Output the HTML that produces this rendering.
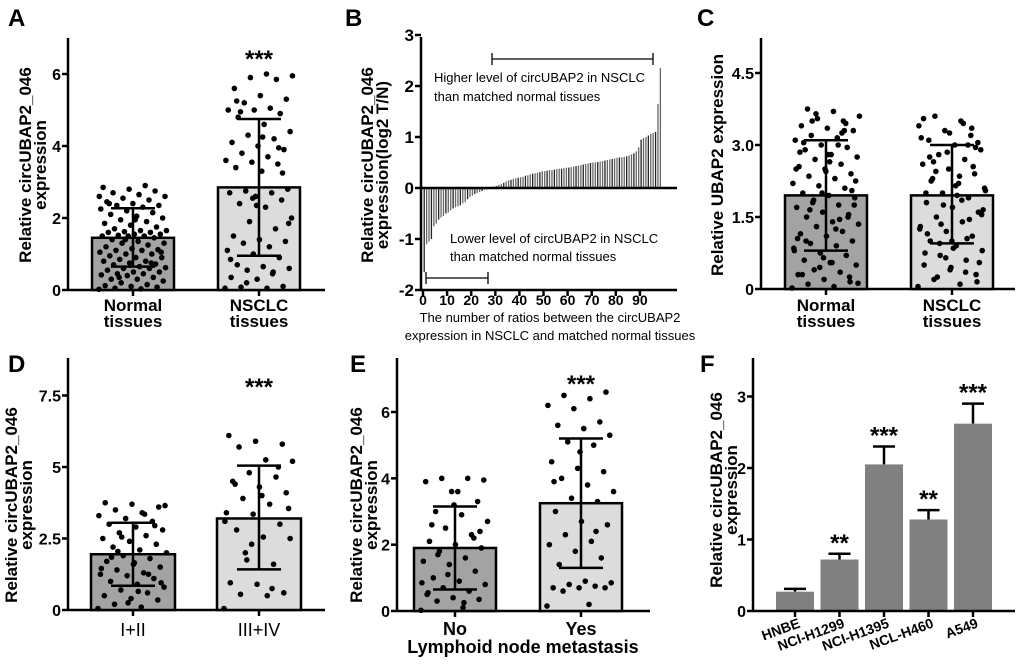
<!DOCTYPE html>
<html><head><meta charset="utf-8"><style>
html,body{margin:0;padding:0;background:#fff}
svg{display:block}
text{font-family:"Liberation Sans",Arial,sans-serif}
</style></head><body>
<svg id="fig" width="1020" height="665" viewBox="0 0 1020 665" xmlns="http://www.w3.org/2000/svg"></svg>
<script>
// ---------- DATA ----------
const aCats = ["Normal tissues","NSCLC tissues"];
const aMeans = [1.45, 2.85];
const aLow = [0.65, 0.95];
const aHigh = [2.27, 4.75];
const aNormal = [0.02,0.03,0.05,0.08,0.1,0.12,0.15,0.2,0.25,0.3,0.3,0.35,0.4,0.42,0.45,0.45,0.5,0.5,0.55,0.6,0.6,0.62,0.65,0.7,0.72,0.75,0.8,0.8,0.85,0.9,0.9,0.95,1.0,1.0,1.05,1.1,1.1,1.12,1.15,1.2,1.25,1.3,1.3,1.35,1.4,1.45,1.5,1.5,1.5,1.52,1.55,1.55,1.6,1.6,1.62,1.65,1.65,1.7,1.75,1.8,1.85,1.9,1.95,2.0,2.05,2.1,2.15,2.2,2.25,2.3,2.35,2.35,2.4,2.45,2.5,2.55,2.6,2.65,2.7,2.75,2.8,2.85,2.9,0.35,1.05,1.95,2.4,0.75,1.4,2.6];
const aNsclc = [0.05,0.05,0.08,0.1,0.3,0.35,0.5,0.55,0.6,0.65,0.7,0.9,1.0,1.1,1.2,1.3,1.35,1.4,1.5,1.7,1.9,2.0,2.3,2.4,2.5,2.6,2.7,2.7,2.75,2.8,3.3,3.4,3.5,3.55,3.6,3.7,3.8,3.9,4.0,4.1,4.2,4.3,4.4,4.6,4.8,4.9,5.0,5.0,5.05,5.2,5.3,5.4,5.6,5.85,5.9,5.95,6.0,4.95,3.25,2.35,0.85,0.45,0.2,1.85,4.25,5.25,3.95,2.55];
const bRatios = [-1.65,-1.1,-1.05,-1.0,-0.75,-0.7,-0.62,-0.58,-0.55,-0.5,-0.48,-0.44,-0.4,-0.38,-0.36,-0.34,-0.3,-0.28,-0.22,-0.18,-0.15,-0.12,-0.1,-0.08,-0.06,-0.04,-0.03,-0.01,0.02,0.03,0.04,0.06,0.08,0.1,0.13,0.15,0.16,0.18,0.19,0.2,0.21,0.22,0.24,0.25,0.27,0.28,0.29,0.3,0.31,0.33,0.33,0.34,0.35,0.35,0.36,0.37,0.38,0.38,0.39,0.4,0.4,0.41,0.42,0.43,0.44,0.45,0.46,0.47,0.48,0.49,0.5,0.5,0.51,0.52,0.53,0.54,0.55,0.56,0.57,0.58,0.59,0.6,0.6,0.61,0.62,0.64,0.66,0.68,0.72,0.8,0.95,0.98,1.0,1.03,1.06,1.08,1.1,1.65,2.35];
const bTicks = [-2,-1,0,1,2,3];
const bXTicks = [0,10,20,30,40,50,60,70,80,90];
const cMeans = [1.95, 1.95];
const cLow = [0.8, 0.95];
const cHigh = [3.1, 3.0];
const cNormal = [0.02,0.05,0.1,0.15,0.2,0.3,0.35,0.4,0.5,0.55,0.6,0.7,0.75,0.8,0.9,0.95,1.0,1.1,1.15,1.2,1.3,1.35,1.4,1.5,1.55,1.6,1.7,1.75,1.8,1.9,1.95,2.0,2.1,2.15,2.2,2.3,2.35,2.4,2.5,2.55,2.6,2.7,2.75,2.8,2.9,2.95,3.0,3.1,3.15,3.2,3.3,3.35,3.4,3.5,3.55,3.6,3.7,3.75,0.25,0.65,1.05,1.45,1.85,2.25,2.65,3.05,3.45,0.45,0.85,1.25,1.65,2.05,2.45,2.85,3.25,3.65,0.12,0.55,1.0,1.5,2.0,2.5,3.0,3.5,1.75,2.8,0.3,3.3];
const cNsclc = [0.05,0.1,0.2,0.3,0.4,0.5,0.6,0.7,0.8,0.9,1.0,1.1,1.2,1.3,1.4,1.5,1.6,1.7,1.8,1.9,2.0,2.1,2.2,2.3,2.4,2.5,2.6,2.7,2.8,2.9,3.0,3.1,3.2,3.3,3.4,3.5,3.6,0.15,0.45,0.75,1.05,1.35,1.65,1.95,2.25,2.55,2.85,3.15,3.45,0.25,0.55,0.85,1.15,1.45,1.75,2.05,2.35,2.65,2.95,3.25,3.55,0.35,0.95,1.55,2.15,2.75,3.35,0.65,1.25,1.85,2.45,3.05,1.0,2.0,3.0];
const dMeans = [1.95, 3.2];
const dLow = [0.85, 1.42];
const dHigh = [3.05, 5.05];
const dEarly = [0.05,0.1,0.2,0.35,0.4,0.5,0.6,0.7,0.8,0.9,1.0,1.1,1.2,1.25,1.3,1.4,1.5,1.6,1.7,1.8,1.9,2.0,2.1,2.2,2.3,2.4,2.5,2.6,2.7,2.8,2.9,3.0,3.1,3.2,3.3,3.4,3.5,3.6,3.7,3.75,1.25,2.55,3.65,0.65,1.85,2.95,0.25,1.45,3.35,2.05,0.95,1.65];
const dLate = [0.05,0.5,0.55,0.6,0.9,0.95,1.6,1.75,2.5,2.55,2.8,3.0,3.35,3.4,3.7,3.9,4.1,4.3,4.5,4.65,4.8,5.2,5.25,5.7,5.8,5.9,6.1,0.75,2.0,3.55,4.0,4.4,5.0,2.3,3.1];
const eMeans = [1.9, 3.25];
const eLow = [0.65, 1.3];
const eHigh = [3.15, 5.2];
const eNo = [0.02,0.1,0.3,0.35,0.4,0.5,0.6,0.7,0.8,0.9,1.0,1.2,1.4,1.5,1.6,1.8,1.9,2.0,2.1,2.3,2.5,2.7,2.9,3.0,3.3,3.6,3.9,4.0,4.0,3.95,3.6,2.6,2.2,1.1,0.85,0.25,1.7,2.4,3.2,0.55];
const eYes = [0.15,0.2,0.6,0.7,0.7,0.7,0.75,0.8,0.85,0.9,1.4,1.6,1.8,2.0,2.1,2.3,2.6,2.7,3.0,3.3,3.4,3.6,3.8,4.0,4.2,4.3,4.5,5.0,5.1,5.3,5.5,5.6,5.7,6.1,6.2,6.4,6.5,6.6,4.8,3.9,2.4];
const fCats = ["HNBE","NCI-H1299","NCI-H1395","NCL-H460","A549"];
const fMeans = [0.27, 0.72, 2.05, 1.28, 2.62];
const fErr = [0.04, 0.08, 0.25, 0.13, 0.28];
const fStars = ["","**","***","**","***"];

// ---------- HELPERS ----------
const NS="http://www.w3.org/2000/svg";
const svg=document.getElementById('fig');
function el(tag,attrs,parent){const e=document.createElementNS(NS,tag);for(const k in attrs)e.setAttribute(k,attrs[k]);(parent||svg).appendChild(e);return e;}
function txt(s,x,y,size,opts,parent){const t=el('text',Object.assign({x:x,y:y,'font-size':size,'font-weight':'bold','text-anchor':'middle',fill:'#000'},opts||{}),parent);t.textContent=s;return t;}
function mkY(y0,y1,v0,v1){return v=>y0+(v-v0)*(y1-y0)/(v1-v0);}

function letter(s,x,y){const t=txt(s,x,y,24,{'text-anchor':'start'});}

function yAxis(g,ax,top,bot,ticks,Y,labels,name,fs){
  const l=el('line',{x1:ax,y1:top,x2:ax,y2:bot,stroke:'#000','stroke-width':2.5},g);
  
  ticks.forEach((v,i)=>{const y=Y(v);
    el('line',{x1:ax-6,y1:y,x2:ax,y2:y,stroke:'#000','stroke-width':2.5},g);
    const t=txt(labels[i],ax-7,y+6,fs||16,{'text-anchor':'end'},g);
    });
}
function yTitle(g,lines,x,cy,name){
  lines.forEach((s,i)=>{const xx=x+i*15;const t=txt(s,xx,cy,17,{transform:`rotate(-90 ${xx} ${cy})`},g);
    });
}
function dots(g,vals,cx,Y,halfw,name){
  vals.forEach((v,i)=>{const y=Y(v);
    const f=((i*0.6180339)%1)-0.5;
    const c=el('circle',{cx:cx+f*2*halfw,cy:y,r:2.8,fill:'#000'},g);
    });
}
function scatterBar(g,cx,w,mean,lo,hi,vals,Y,fill,name){
  const b=el('rect',{x:cx-w/2,y:Y(mean),width:w,height:Y(0)-Y(mean),fill:fill,stroke:'#000','stroke-width':2.5},g);
  
  dots(g,vals,cx,Y,w/2-7,name);
  const e=el('path',{d:`M${cx},${Y(lo)}V${Y(hi)}M${cx-22},${Y(hi)}H${cx+22}M${cx-22},${Y(lo)}H${cx+22}`,stroke:'#000','stroke-width':2.5,fill:'none'},g);
  
}
function xAxis(g,x1,x2,y,ticks,name){
  const l=el('line',{x1:x1,y1:y,x2:x2,y2:y,stroke:'#000','stroke-width':2.5},g);
  
  ticks.forEach(x=>el('line',{x1:x,y1:y,x2:x,y2:y+6,stroke:'#000','stroke-width':2.5},g));
}
function stars(g,s,x,y,name){const t=txt(s,x,y,24,{},g);}
function group(name){const g=el('g',{});return g;}

const DARK='#a3a3a3', LIGHT='#dcdcdc';

// ---------- PANEL A ----------
(function(){const g=group('panel-a');letter('A',8,26);
  const Y=mkY(290,74,0,6);
  yAxis(g,68,38,290,[0,2,4,6],Y,['0','2','4','6'],'a');
  xAxis(g,68,325,290,[133,259],'a');
  scatterBar(g,133,82,aMeans[0],aLow[0],aHigh[0],aNormal,Y,DARK,'a-normal');
  scatterBar(g,259,82,aMeans[1],aLow[1],aHigh[1],aNsclc,Y,LIGHT,'a-nsclc');
  stars(g,'***',259,67,'a');
  [['Normal',133],['NSCLC',259]].forEach(([s,x])=>{txt(s,x,311,17,{},g);txt('tissues',x,327,17,{},g);});
  yTitle(g,['Relative circUBAP2_046','expression'],31,165,'a');
})();

// ---------- PANEL B ----------
(function(){const g=group('panel-b');letter('B',345,26);
  const Y=mkY(188,290,0,-2);const X=i=>423+i*2.41;
  bRatios.forEach((v,i)=>{const x=X(i+0.5);const r=el('line',{x1:x,y1:Y(0),x2:x,y2:Y(v),stroke:i%3?'#666':'#222','stroke-width':1.3},g);
    });
  yAxis(g,421,37,290,bTicks,Y,bTicks.map(String),'b',17);
  el('line',{x1:421,y1:Y(0),x2:677,y2:Y(0),stroke:'#000','stroke-width':2.5},g);
  xAxis(g,421,677,290,bXTicks.map(v=>X(v)),'b');
  bXTicks.forEach(v=>{const t=txt(String(v),X(v),305,14,{},g);});
  el('path',{d:'M492,59H653M492,53V65M653,53V65M426,278H488M426,272V284M488,272V284',stroke:'#000','stroke-width':1.3,fill:'none'},g);
  const o={'font-weight':'normal','text-anchor':'start','font-family':'"DejaVu Sans Condensed","Liberation Sans",sans-serif'};
  txt('Higher level of circUBAP2 in NSCLC',434,82,13,o,g);txt('than matched normal tissues',434,101,13,o,g);
  txt('Lower level of circUBAP2 in NSCLC',450,243,13,o,g);txt('than matched normal tissues',450,261,13,o,g);
  const oc=Object.assign({},o,{'text-anchor':'middle'});
  txt('The number  of ratios between the circUBAP2',550,322,13,oc,g);txt('expression in NSCLC and matched normal tissues',550,340,13,oc,g);
  yTitle(g,['Relative circUBAP2_046','expression(log2 T/N)'],373,165,'b');
})();

// ---------- PANEL C ----------
(function(){const g=group('panel-c');letter('C',697,26);
  const Y=mkY(289,145,0,3);
  yAxis(g,761,38,289,[0,1.5,3,4.5],Y,['0','1.5','3.0','4.5'],'c');
  xAxis(g,761,1015,289,[826,952],'c');
  scatterBar(g,826,82,cMeans[0],cLow[0],cHigh[0],cNormal,Y,DARK,'c-normal');
  scatterBar(g,952,82,cMeans[1],cLow[1],cHigh[1],cNsclc,Y,LIGHT,'c-nsclc');
  [['Normal',826],['NSCLC',952]].forEach(([s,x])=>{txt(s,x,311,17,{},g);txt('tissues',x,327,17,{},g);});
  yTitle(g,['Relative UBAP2 expression'],723,165,'c');
})();

// ---------- PANEL D ----------
(function(){const g=group('panel-d');letter('D',8,372);
  const Y=mkY(610,467,0,5);
  yAxis(g,68,358,610,[0,2.5,5,7.5],Y,['0','2.5','5','7.5'],'d');
  xAxis(g,68,325,610,[133,259],'d');
  scatterBar(g,133,84,dMeans[0],dLow[0],dHigh[0],dEarly,Y,DARK,'d-early');
  scatterBar(g,259,84,dMeans[1],dLow[1],dHigh[1],dLate,Y,LIGHT,'d-late');
  stars(g,'***',259,395,'d');
  [['I+II',133],['III+IV',259]].forEach(([s,x])=>{const t=txt(s,x,636,18,{'font-weight':'normal','font-family':'"Liberation Serif",serif'},g);});
  yTitle(g,['Relative circUBAP2_046','expression'],17,505,'d');
})();

// ---------- PANEL E ----------
(function(){const g=group('panel-e');letter('E',350,372);
  const Y=mkY(611,412,0,6);
  yAxis(g,397,358,611,[0,2,4,6],Y,['0','2','4','6'],'e');
  xAxis(g,397,650,611,[455,581],'e');
  scatterBar(g,455,82,eMeans[0],eLow[0],eHigh[0],eNo,Y,DARK,'e-no');
  scatterBar(g,581,82,eMeans[1],eLow[1],eHigh[1],eYes,Y,LIGHT,'e-yes');
  stars(g,'***',581,392,'e');
  txt('No',455,635,18,{},g);txt('Yes',581,635,18,{},g);
  const t=txt('Lymphoid node metastasis',523,653,18,{},g);
  yTitle(g,['Relative circUBAP2_046','expression'],362,505,'e');
})();

// ---------- PANEL F ----------
(function(){const g=group('panel-f');letter('F',700,372);
  const Y=mkY(611,468,0,2);
  const xs=i=>795+i*44.5;const w=38;
  fMeans.forEach((m,i)=>{const x=xs(i);
    const e=el('path',{d:`M${x},${Y(m)}V${Y(m+fErr[i])}M${x-11},${Y(m+fErr[i])}H${x+11}`,stroke:'#000','stroke-width':2.5,fill:'none'},g);
    
    const b=el('rect',{x:x-w/2,y:Y(m),width:w,height:Y(0)-Y(m),fill:'#808080'},g);
    
    if(fStars[i])stars(g,fStars[i],x,Y(m+fErr[i])-3,'f');
    const t=txt(fCats[i],x+6,627,14,{'text-anchor':'end',transform:`rotate(-20 ${x+6} 627)`},g);
    });
  yAxis(g,753,358,611,[0,1,2,3],Y,['0','1','2','3'],'f');
  xAxis(g,753,1015,611,fMeans.map((m,i)=>xs(i)),'f');
  yTitle(g,['Relative circUBAP2_046','expression'],722,490,'f');
})();
</script>
</body></html>
